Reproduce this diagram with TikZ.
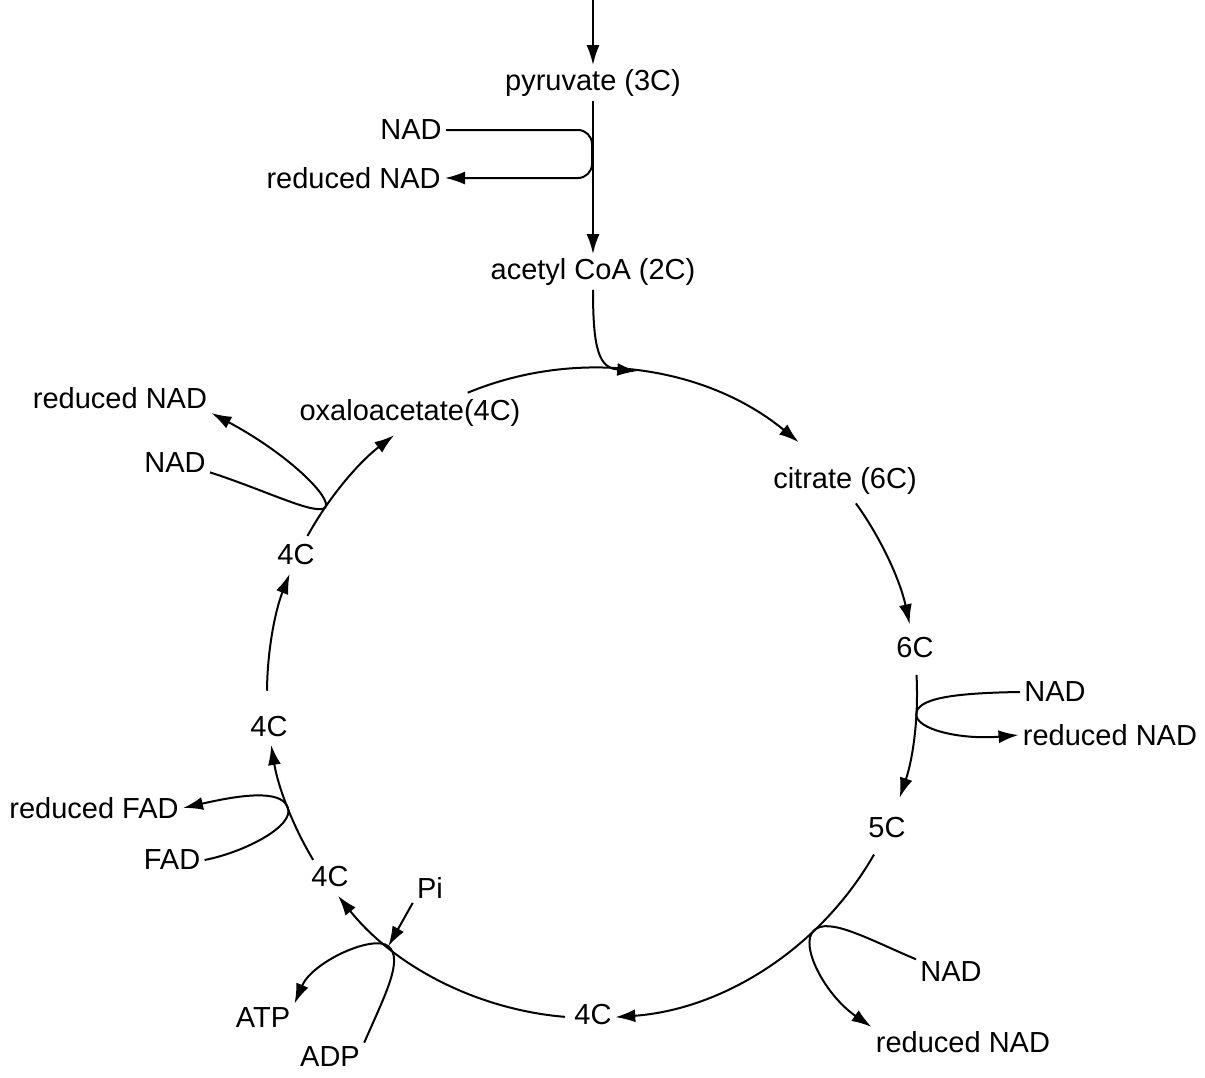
\documentclass[tikz,border=0pt]{standalone}
\usepackage{fontspec}
\setmainfont{Liberation Sans}
\usetikzlibrary{arrows.meta}
\tikzstyle{chem} = [font=\fontsize{14.5}{17}\selectfont, inner sep=2pt]
\tikzstyle{arrow} = [line width=1pt, -{Latex[length=10pt,width=6.5pt]}]

\begin{document}
\begin{tikzpicture}[x=0.5pt, y=-0.5pt]
        \useasboundingbox (0,0) rectangle (1205,1077);

        %Centre of the cycle
        \coordinate (ring) at (592,693);

        %Link reaction
        \coordinate (in) at (593,0);
        \node (pyr) [chem] at (593,83) {pyruvate (3C)};
        \node (acoa) [chem] at (593,272) {acetyl CoA (2C)};
        \node (nad1) [chem, anchor=east] at (446,130) {NAD};
        \node (rnad1) [chem, anchor=east] at (445,178) {reduced NAD};
        \coordinate (j1) at (592,155);
        \draw [arrow] (in) -- (pyr);
        \draw [arrow] (pyr) -- (acoa);
        \draw [arrow, rounded corners=7] (nad1.east) -| (j1) |- (rnad1.east);

        %Acetyl CoA into the cycle
        \path (ring) ++(-82:325) coordinate (join);
        \draw [arrow] (acoa) .. controls (593,350) and (599,368) .. (join);

        %Cycle intermediates
        \node (oxa) [chem] at (410,413) {oxaloacetate(4C)};
        \node (cit) [chem] at (845,481) {citrate (6C)};
        \node (c6) [chem] at (915,648) {6C};
        \node (c5) [chem] at (887,828) {5C};
        \node (c4a) [chem] at (593,1015) {4C};
        \node (c4b) [chem] at (330,877) {4C};
        \node (c4c) [chem] at (269,727) {4C};
        \node (c4d) [chem] at (296,555) {4C};

        %Cycle arcs
        \path (ring) ++(-112.5:325) coordinate (r1);
        \path (ring) ++(-35.7:325) coordinate (r2);
        \path (ring) ++(-3.2:325) coordinate (r3);
        \path (ring) ++(29.8:325) coordinate (r4);
        \path (ring) ++(94.8:325) coordinate (r5);
        \path (ring) ++(149.1:325) coordinate (r6);
        \path (ring) ++(180.4:325) coordinate (r7);
        \path (ring) ++(208.9:325) coordinate (r8);
        \draw [arrow] (r1) arc [start angle=-112.5, end angle=-50.5, radius=325];
        \draw [arrow] (r2) arc [start angle=-35.7, end angle=-12.2, radius=325];
        \draw [arrow] (r3) arc [start angle=-3.2, end angle=18.8, radius=325];
        \draw [arrow] (r4) arc [start angle=29.8, end angle=85.9, radius=325];
        \draw [arrow] (r5) arc [start angle=94.8, end angle=141.4, radius=325];
        \draw [arrow] (r6) arc [start angle=149.1, end angle=170.8, radius=325];
        \draw [arrow] (r7) arc [start angle=180.4, end angle=201.5, radius=325];
        \draw [arrow] (r8) arc [start angle=208.9, end angle=232.5, radius=325];

        %NAD at 6C
        \path (ring) ++(3.7:325) coordinate (b1);
        \node (nad2) [chem] at (1055,692) {NAD};
        \node (rnad2) [chem] at (1110,735) {reduced NAD};
        \draw [arrow] (nad2.west) .. controls (950,693) and (917,699) .. (b1) .. controls (915,729) and (960,740) .. (rnad2.west);

        %NAD at 5C
        \path (ring) ++(47:325) coordinate (b2);
        \node (nad3) [chem] at (951,972) {NAD};
        \node (rnad3) [chem] at (963,1042) {reduced NAD};
        \draw [arrow] (nad3.160) .. controls (870,940) and (828,916) .. (b2) .. controls (799,945) and (825,995) .. (rnad3.north west);

        %ATP
        \path (ring) ++(128.8:325) coordinate (b3);
        \node (pi) [chem] at (430,888) {Pi};
        \node (atp) [chem] at (263,1018) {ATP};
        \node (adp) [chem] at (330,1057) {ADP};
        \draw [arrow] (pi.south west) -- (b3);
        \draw [arrow] (adp.north east) .. controls (385,995) and (404,959) .. (b3) .. controls (373,934) and (312,962) .. (atp.north east);

        %FAD
        \path (ring) ++(159.4:325) coordinate (b4);
        \node (fad) [chem] at (172,860) {FAD};
        \node (rfad) [chem] at (94,808) {reduced FAD};
        \draw [arrow] (fad.east) .. controls (245,852) and (295,826) .. (b4) .. controls (281,789) and (240,795) .. (rfad.east);

        %NAD at oxaloacetate
        \path (ring) ++(214.8:325) coordinate (b5);
        \node (nad4) [chem] at (175,463) {NAD};
        \node (rnad4) [chem] at (120,398) {reduced NAD};
        \draw [arrow] (nad4.-15) .. controls (265,490) and (316,516) .. (b5) .. controls (333,499) and (290,455) .. (rnad4.south east);

    \end{tikzpicture}
\end{document}
